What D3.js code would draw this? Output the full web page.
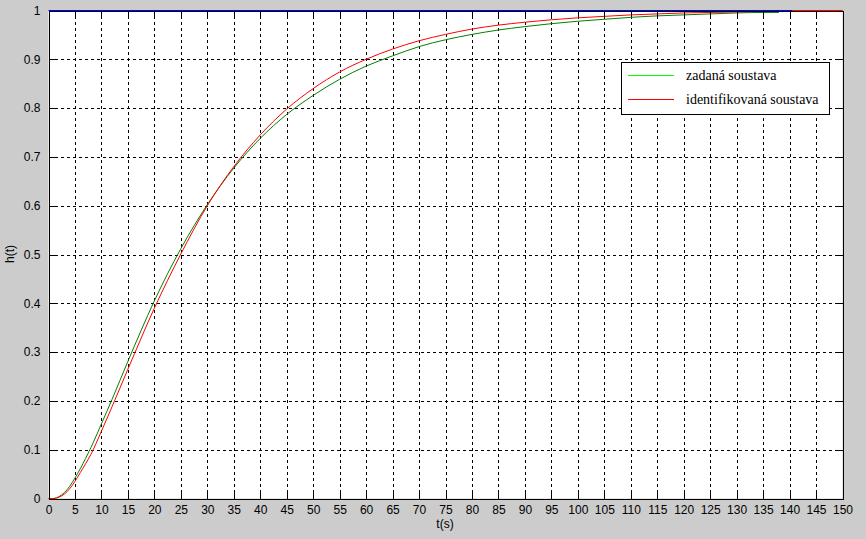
<!DOCTYPE html>
<html>
<head>
<meta charset="utf-8">
<script src="https://cdn.jsdelivr.net/npm/d3@7"></script>
<style>
  html, body { margin: 0; padding: 0; background: #cccccc; }
  svg { display: block; }
</style>
</head>
<body>
<svg id="chart" width="866" height="539"></svg>
<script>
// ---- data ----
const xTicks = d3.range(0, 151, 5);
const yTicks = d3.range(0, 1.0001, 0.1).map(v => +v.toFixed(1));

const tGiven = [0, 1, 2, 3, 4, 5, 6, 7, 8, 10, 12, 15, 20, 25, 30, 35, 40, 45, 50, 55, 60, 65, 70, 75, 80, 85, 90, 95, 100, 105, 110, 115, 120, 125, 130, 135, 138];
const hGiven = [0, 0, 0.004, 0.012, 0.025, 0.042, 0.061, 0.082, 0.104, 0.153, 0.203, 0.281, 0.405, 0.512, 0.602, 0.677, 0.738, 0.787, 0.826, 0.859, 0.886, 0.907, 0.926, 0.940, 0.951, 0.960, 0.967, 0.973, 0.978, 0.982, 0.986, 0.989, 0.991, 0.993, 0.995, 0.996, 0.996];

const tIdent = [0, 1, 2, 3, 4, 5, 6, 7, 8, 10, 12, 15, 20, 25, 30, 35, 40, 45, 50, 55, 60, 65, 70, 75, 80, 85, 90, 95, 100, 105, 110, 115, 120, 125, 130, 135, 140, 145, 150];
const hIdent = [0, 0, 0.003, 0.009, 0.020, 0.035, 0.053, 0.071, 0.090, 0.138, 0.188, 0.265, 0.390, 0.501, 0.600, 0.680, 0.745, 0.798, 0.840, 0.874, 0.900, 0.921, 0.938, 0.951, 0.962, 0.970, 0.976, 0.981, 0.985, 0.988, 0.991, 0.993, 0.995, 0.996, 0.997, 0.998, 0.999, 1.0, 1.0];

const tInput = [0, 140.5];
const hInput = [1, 1];

const seriesNames = ["zadaná soustava", "identifikovaná soustava"];
const legendColors = ["#00ff00", "#ff0000"];

// ---- layout ----
const L = 48, R = 842, T = 10, B = 498;
const svg = d3.select("#chart");
const g = svg.append("g").attr("transform", "translate(0.5,0.5)");

const x = d3.scaleLinear().domain([0, 150]).range([L, R]);
const y = d3.scaleLinear().domain([0, 1]).range([B, T]);

// plot background
g.append("rect").attr("x", L).attr("y", T).attr("width", R - L).attr("height", B - T)
  .attr("fill", "#ffffff");

// grid
const gridX = g.append("g").attr("transform", `translate(0,${B})`)
  .call(d3.axisBottom(x).tickValues(xTicks).tickSize(-(B - T)).tickFormat(""));
const gridY = g.append("g").attr("transform", `translate(${L},0)`)
  .call(d3.axisLeft(y).tickValues(yTicks).tickSize(-(R - L)).tickFormat(""));
[gridX, gridY].forEach(s => {
  s.select(".domain").remove();
  s.selectAll("line").attr("stroke", "#000").attr("stroke-dasharray", "3,3")
    .attr("shape-rendering", "crispEdges");
});

// lines
const line = d3.line().x(d => x(d[0])).y(d => y(d[1])).curve(d3.curveMonotoneX);
const straight = d3.line().x(d => x(d[0])).y(d => y(d[1]));
g.append("path").datum(d3.zip(tGiven, hGiven)).attr("d", line)
  .attr("fill", "none").attr("stroke", "#008000").attr("stroke-width", 1);
g.append("path").datum(d3.zip(tIdent, hIdent)).attr("d", line)
  .attr("fill", "none").attr("stroke", "#ff0000").attr("stroke-width", 1);

// axes (ticks inside)
const font = "'Liberation Sans', Arial, sans-serif";
const axB = g.append("g").attr("transform", `translate(0,${B})`)
  .call(d3.axisBottom(x).tickValues(xTicks).tickSize(-6).tickPadding(7).tickFormat(d3.format("d")));
const axT = g.append("g").attr("transform", `translate(0,${T})`)
  .call(d3.axisTop(x).tickValues(xTicks).tickSize(-6).tickFormat(""));
const axL = g.append("g").attr("transform", `translate(${L},0)`)
  .call(d3.axisLeft(y).tickValues(yTicks).tickSize(-6).tickPadding(8).tickFormat(d => d === 0 ? "0" : d === 1 ? "1" : d3.format(".1f")(d)));
const axR = g.append("g").attr("transform", `translate(${R},0)`)
  .call(d3.axisRight(y).tickValues(yTicks).tickSize(-6).tickFormat(""));
[axB, axT, axL, axR].forEach(s => {
  s.selectAll(".domain").attr("stroke", "#000").attr("shape-rendering", "crispEdges");
  s.selectAll("line").attr("stroke", "#000").attr("shape-rendering", "crispEdges");
  s.selectAll("text").attr("fill", "#000").style("font-family", font).style("font-size", "12px");
});
// blue input line over the top axis, red tail where input ends
g.append("path").datum(d3.zip(tInput, hInput)).attr("d", straight)
  .attr("fill", "none").attr("stroke", "#0000ff").attr("stroke-width", 1.2);
g.append("path").datum([[tInput[1], 1], [150, 1]]).attr("d", straight)
  .attr("fill", "none").attr("stroke", "#ff0000").attr("stroke-width", 1.2);

// axis labels
svg.append("text").attr("x", (L + R) / 2).attr("y", 528).attr("text-anchor", "middle")
  .style("font-family", font).style("font-size", "12px").text("t(s)");
svg.append("text").attr("transform", `translate(14,${(T + B) / 2}) rotate(-90)`)
  .attr("text-anchor", "middle").style("font-family", font).style("font-size", "12px").text("h(t)");

// legend
const lg = svg.append("g");
lg.append("rect").attr("x", 621.5).attr("y", 62.5).attr("width", 208).attr("height", 52)
  .attr("fill", "#fff").attr("stroke", "#000");
seriesNames.forEach((name, i) => {
  const yy = 75 + i * 24;
  lg.append("rect").attr("x", 628).attr("y", yy).attr("width", 46).attr("height", 1)
    .attr("fill", legendColors[i]);
  lg.append("text").attr("x", 686).attr("y", yy + 5)
    .style("font-family", "'Liberation Serif', 'Times New Roman', serif").style("font-size", "14px")
    .attr("fill", "#000").text(name);
});
</script>
</body>
</html>
